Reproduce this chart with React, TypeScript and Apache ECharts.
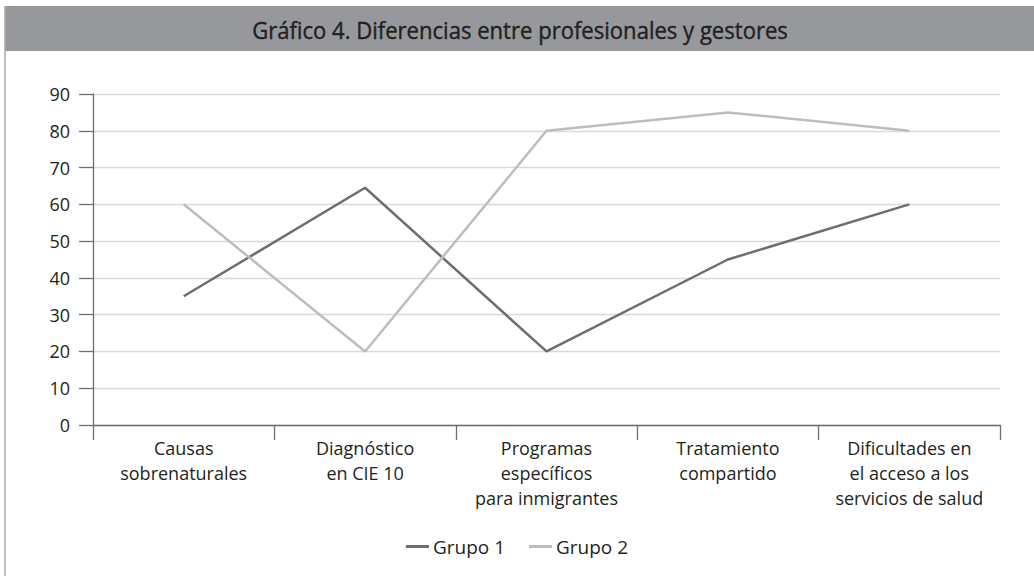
import React, { useEffect, useRef } from "react";
import * as echarts from "echarts";

const categories = [
  "Causas\nsobrenaturales",
  "Diagnóstico\nen CIE 10",
  "Programas\nespecíficos\npara inmigrantes",
  "Tratamiento\ncompartido",
  "Dificultades en\nel acceso a los\nservicios de salud",
];
const grupo1 = [35, 64.5, 20, 45, 60];
const grupo2 = [60, 20, 80, 85, 80];
const title = "Gráfico 4. Diferencias entre profesionales y gestores";

export default function App() {
  const ref = useRef<HTMLDivElement>(null);
  useEffect(() => {
    document.body.style.margin = "0";
    const chart = echarts.init(ref.current!, null, { renderer: "svg" });
    const font = "'Open Sans', sans-serif";
    chart.setOption({
      animation: false,
      backgroundColor: "#ffffff",
      textStyle: { fontFamily: font },
      graphic: [
        { type: "rect", shape: { x: 5, y: 6, width: 1029, height: 45 }, style: { fill: "#97989b" } },
        { type: "line", shape: { x1: 5, y1: 6, x2: 5, y2: 576 }, style: { stroke: "#a9a9ab", lineWidth: 1.5 } },
        {
          type: "text",
          x: 520,
          y: 30,
          scaleX: 0.92,
          style: {
            text: title,
            fontSize: 24,
            fontWeight: "normal",
            fontFamily: font,
            fill: "#231f20",
            stroke: "#231f20",
            lineWidth: 0.4,
            align: "center",
            verticalAlign: "middle",
          },
        },
      ],
      grid: { left: 93, right: 34, top: 94, bottom: 151, containLabel: false },
      legend: {
        top: 532,
        left: "center",
        itemWidth: 23,
        itemHeight: 3,
        itemGap: 24,
        icon: "rect",
        textStyle: { fontSize: 19, color: "#231f20", fontFamily: font, padding: [0, 0, 0, -1] },
        data: ["Grupo 1", "Grupo 2"],
      },
      xAxis: {
        type: "category",
        data: categories,
        boundaryGap: true,
        axisLine: { show: true, lineStyle: { color: "#6d6e71", width: 1.3 } },
        axisTick: { show: true, length: 15, interval: 0, lineStyle: { color: "#6d6e71", width: 1.3 } },
        axisLabel: {
          interval: 0,
          margin: 11,
          fontSize: 18,
          lineHeight: 24.6,
          color: "#231f20",
          fontFamily: font,
        },
      },
      yAxis: {
        type: "value",
        min: 0,
        max: 90,
        interval: 10,
        axisLine: { show: true, lineStyle: { color: "#6d6e71", width: 1.3 } },
        axisTick: { show: true, length: 14, lineStyle: { color: "#6d6e71", width: 1.3 } },
        splitLine: { show: true, lineStyle: { color: "#d9d9d9", width: 1.3 } },
        axisLabel: { margin: 23, fontSize: 18, color: "#231f20", fontFamily: font },
      },
      series: [
        {
          name: "Grupo 1",
          type: "line",
          data: grupo1,
          showSymbol: false,
          symbol: "none",
          itemStyle: { color: "#6d6e71" },
          lineStyle: { color: "#6d6e71", width: 2.5 },
        },
        {
          name: "Grupo 2",
          type: "line",
          data: grupo2,
          showSymbol: false,
          symbol: "none",
          itemStyle: { color: "#bcbdc0" },
          lineStyle: { color: "#bcbdc0", width: 2.5 },
        },
      ],
    });
    return () => chart.dispose();
  }, []);
  return <div ref={ref} style={{ position: "fixed", left: 0, top: 0, width: 1034, height: 576 }} />;
}
